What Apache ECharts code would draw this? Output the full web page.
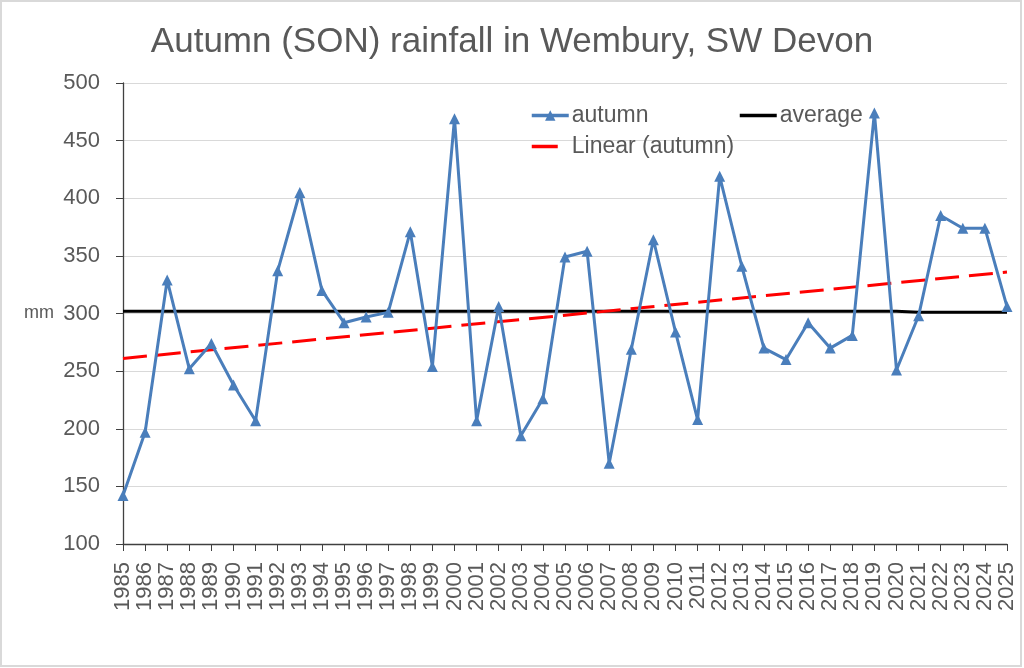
<!DOCTYPE html>
<html>

<head>
    <meta charset="UTF-8">
    <style type="text/css">
        body {
            margin: 0;
            padding: 0;
            overflow: hidden;
            background: #fff
        }

        #chart {
            width: 1024px;
            height: 668px;
            position: absolute
        }
    </style>
</head>

<body>
    <div id="chart"></div>
    <script src="https://cdn.jsdelivr.net/npm/echarts@6/dist/echarts.min.js"></script>
    <script>
        let years = ['1985', '1986', '1987', '1988', '1989', '1990', '1991', '1992', '1993', '1994',
            '1995', '1996', '1997', '1998', '1999', '2000', '2001', '2002', '2003', '2004',
            '2005', '2006', '2007', '2008', '2009', '2010', '2011', '2012', '2013', '2014',
            '2015', '2016', '2017', '2018', '2019', '2020', '2021', '2022', '2023', '2024', '2025'];
        let autumn = [142, 197, 329, 252, 274, 238, 207, 337, 405, 320,
            292, 297, 301, 371, 254, 469, 207, 306, 194, 226,
            349, 354, 170, 269, 364, 284, 208, 419, 341, 270,
            260, 292, 270, 281, 474, 251, 298, 385, 374, 374, 306];
        let average = [302, 302, 302, 302, 302, 302, 302, 302, 302, 302,
            302, 302, 302, 302, 302, 302, 302, 302, 302, 302,
            302, 302, 302, 302, 302, 302, 302, 302, 302, 302,
            302, 302, 302, 302, 302, 302, 301, 301, 301, 301, 301];
        // trend line end points
        let trend = [['1985', 261], ['2025', 336]];
        let yTicks = { min: 100, max: 500, step: 50 };

        let FONT = 'Liberation Sans';
        let GREY = '#595959';

        var myChart = echarts.init(document.getElementById('chart'));

        function legendFor(name, left, top, extra) {
            return Object.assign({
                data: [name],
                left: left,
                top: top,
                itemWidth: 37,
                itemHeight: 13,
                itemGap: 0,
                lineStyle: { width: 3.5 },
                textStyle: { fontFamily: FONT, fontSize: 23, color: GREY, padding: [0, 0, 0, -2] }
            }, extra || {});
        }

        let option = {
            animation: false,
            backgroundColor: '#fff',
            title: {
                text: 'Autumn (SON) rainfall in Wembury, SW Devon',
                left: 'center',
                top: 20,
                textStyle: { fontFamily: FONT, fontSize: 35, fontWeight: 'normal', color: GREY }
            },
            legend: [
                legendFor('autumn', 525, 99),
                legendFor('average', 733, 99, { itemStyle: { opacity: 0 } }),
                legendFor('Linear (autumn)', 525, 130, {
                    itemStyle: { opacity: 0 },
                    lineStyle: { width: 3.5, type: [26, 12] }
                })
            ],
            grid: {
                left: 123,
                right: 17,
                top: 83,
                bottom: 124
            },
            xAxis: {
                type: 'category',
                data: years,
                boundaryGap: false,
                axisLine: { lineStyle: { color: '#404040', width: 1.3 } },
                axisTick: { length: 7, interval: 0, lineStyle: { color: '#404040' } },
                axisLabel: {
                    interval: 0,
                    rotate: 90,
                    margin: 18,
                    fontFamily: FONT,
                    fontSize: 22,
                    color: GREY
                },
                splitLine: { show: false }
            },
            yAxis: {
                type: 'value',
                min: yTicks.min,
                max: yTicks.max,
                interval: yTicks.step,
                name: 'mm',
                nameLocation: 'middle',
                nameRotate: 0,
                nameGap: 69,
                nameTextStyle: { fontFamily: FONT, fontSize: 18, color: GREY, align: 'right' },
                axisLine: { show: true, lineStyle: { color: '#404040', width: 1.3 } },
                axisTick: { show: true, length: 7, lineStyle: { color: '#404040' } },
                axisLabel: { margin: 23, fontFamily: FONT, fontSize: 22, color: GREY },
                splitLine: { lineStyle: { color: '#d9d9d9', width: 1 } }
            },
            series: [
                {
                    name: 'autumn',
                    type: 'line',
                    data: autumn,
                    symbol: 'triangle',
                    symbolSize: 11,
                    color: '#4a7ebb',
                    lineStyle: { width: 3, color: '#4a7ebb' },
                    itemStyle: { color: '#4a7ebb' },
                    z: 5
                },
                {
                    name: 'average',
                    type: 'line',
                    data: average,
                    symbol: 'none',
                    color: '#000',
                    lineStyle: { width: 3, color: '#000' },
                    z: 3
                },
                {
                    name: 'Linear (autumn)',
                    type: 'line',
                    data: trend,
                    symbol: 'none',
                    color: '#ff0000',
                    lineStyle: { width: 3, color: '#ff0000', type: [24, 10] },
                    z: 4
                }
            ],
            graphic: [
                {
                    type: 'rect',
                    shape: { x: 1, y: 1, width: 1020, height: 665 },
                    style: { fill: 'none', stroke: '#d9d9d9', lineWidth: 2 },
                    silent: true
                }
            ]
        };
        myChart.setOption(option);
    </script>
</body>

</html>
